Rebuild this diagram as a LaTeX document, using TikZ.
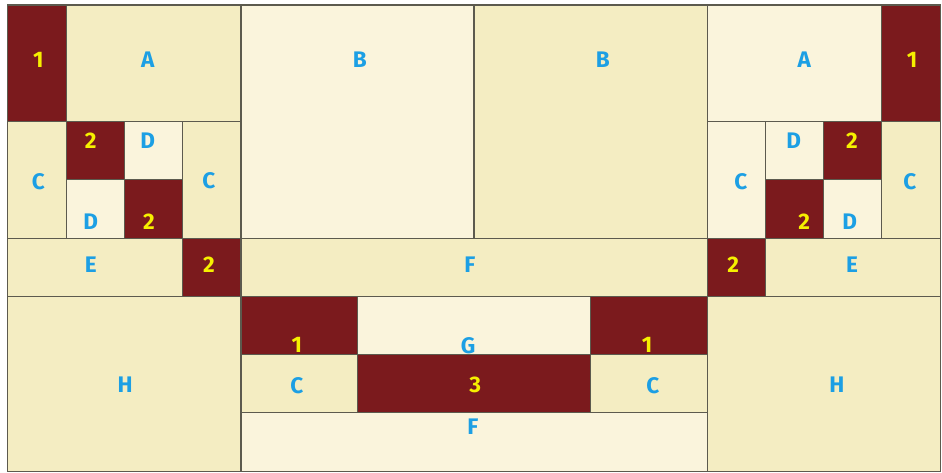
\documentclass[tikz,border=0pt]{standalone}
\usepackage{fontspec}
\setmainfont{Fira Sans}
\definecolor{qred}{HTML}{7B1A1D}
\definecolor{qfloral}{HTML}{F4EDC2}
\definecolor{qswirl}{HTML}{FAF4DC}
\definecolor{qedge}{HTML}{5C5A4E}
\definecolor{qblue}{HTML}{1C9FE4}
\definecolor{qyellow}{HTML}{F6F000}

\begin{document}
\begin{tikzpicture}[
    x=1cm, y=-1cm,
    patch/.style={
        draw=qedge,
        line width=0.5pt
    },
    dark/.style={patch, fill=qred},
    floral/.style={patch, fill=qfloral},
    swirl/.style={patch, fill=qswirl},
    numtag/.style={
        inner sep=0pt,
        font=\fontsize{11}{12}\selectfont\bfseries,
        text=qyellow
    },
    lettag/.style={
        inner sep=0pt,
        font=\fontsize{11}{12}\selectfont\bfseries,
        text=qblue
    }
]

\useasboundingbox (-0.137,-0.086) rectangle (16.034,8.017);

% light floral patches
\foreach \xa/\ya/\xb/\yb in {1/0/4/2, 0/2/1/4, 3/2/4/4, 8/0/12/4, 15/2/16/4,
    0/4/3/5, 4/4/12/5, 13/4/16/5, 0/5/4/8, 12/5/16/8, 4/6/6/7, 10/6/12/7}
    \draw[floral] (\xa,\ya) rectangle (\xb,\yb);

% pale swirl patches
\foreach \xa/\ya/\xb/\yb in {2/2/3/3, 1/3/2/4, 4/0/8/4, 12/0/15/2, 12/2/13/4,
    13/2/14/3, 14/3/15/4, 6/5/10/6, 4/7/12/8}
    \draw[swirl] (\xa,\ya) rectangle (\xb,\yb);

% dark red patches
\foreach \xa/\ya/\xb/\yb in {0/0/1/2, 1/2/2/3, 2/3/3/4, 15/0/16/2, 14/2/15/3,
    13/3/14/4, 3/4/4/5, 12/4/13/5, 4/5/6/6, 10/5/12/6, 6/6/10/7}
    \draw[dark] (\xa,\ya) rectangle (\xb,\yb);

% left block
\node[numtag] (one1) at (0.52,0.94) {1};
\node[lettag] (a1) at (2.40,0.94) {A};
\node[numtag] (two1) at (1.42,2.33) {2};
\node[lettag] (d1) at (2.40,2.33) {D};
\node[lettag] (c1) at (0.52,3.04) {C};
\node[lettag] (d2) at (1.42,3.72) {D};
\node[numtag] (two2) at (2.42,3.72) {2};
\node[lettag] (c2) at (3.45,3.02) {C};

% big squares
\node[lettag] (b1) at (6.04,0.94) {B};
\node[lettag] (b2) at (10.21,0.94) {B};

% right block
\node[lettag] (a2) at (13.67,0.94) {A};
\node[numtag] (one2) at (15.52,0.94) {1};
\node[lettag] (d3) at (13.49,2.33) {D};
\node[numtag] (two3) at (14.49,2.33) {2};
\node[lettag] (c3) at (12.58,3.04) {C};
\node[lettag] (c4) at (15.48,3.04) {C};
\node[numtag] (two4) at (13.67,3.72) {2};
\node[lettag] (d4) at (14.45,3.72) {D};

% middle row
\node[lettag] (e1) at (1.42,4.45) {E};
\node[numtag] (two5) at (3.45,4.45) {2};
\node[lettag] (f1) at (7.93,4.45) {F};
\node[numtag] (two6) at (12.45,4.45) {2};
\node[lettag] (e2) at (14.49,4.45) {E};

% bottom
\node[lettag] (h1) at (2.01,6.52) {H};
\node[lettag] (h2) at (14.23,6.52) {H};
\node[numtag] (one3) at (4.96,5.84) {1};
\node[lettag] (g1) at (7.90,5.84) {G};
\node[numtag] (one4) at (10.97,5.84) {1};
\node[lettag] (c5) at (4.96,6.54) {C};
\node[numtag] (three1) at (8.02,6.52) {3};
\node[lettag] (c6) at (11.07,6.54) {C};
\node[lettag] (f2) at (7.98,7.24) {F};

\end{tikzpicture}
\end{document}
